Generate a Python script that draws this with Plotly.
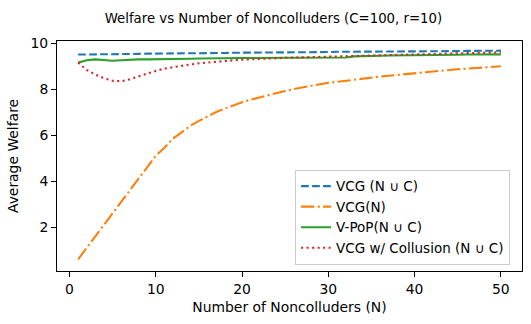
import plotly.graph_objects as go

n_values = list(range(1, 51))

vcg_all = [9.50, 9.50, 9.51, 9.51, 9.52, 9.52, 9.53, 9.53, 9.54, 9.54,
           9.54, 9.55, 9.55, 9.56, 9.56, 9.57, 9.57, 9.57, 9.58, 9.58,
           9.58, 9.59, 9.59, 9.59, 9.60, 9.60, 9.60, 9.61, 9.61, 9.61,
           9.62, 9.62, 9.62, 9.62, 9.63, 9.63, 9.63, 9.64, 9.64, 9.64,
           9.64, 9.65, 9.65, 9.65, 9.65, 9.66, 9.66, 9.66, 9.66, 9.67]

vcg_n = [0.60, 1.10, 1.60, 2.10, 2.60, 3.10, 3.60, 4.10, 4.60, 5.10,
         5.45, 5.85, 6.12, 6.40, 6.62, 6.82, 7.00, 7.15, 7.30, 7.43,
         7.54, 7.64, 7.74, 7.83, 7.92, 8.00, 8.08, 8.15, 8.21, 8.27,
         8.32, 8.37, 8.42, 8.46, 8.50, 8.54, 8.58, 8.62, 8.66, 8.70,
         8.74, 8.77, 8.80, 8.83, 8.86, 8.89, 8.92, 8.94, 8.97, 8.99]

vpop_all = [9.15, 9.25, 9.29, 9.27, 9.23, 9.25, 9.28, 9.29, 9.29, 9.29,
            9.29, 9.30, 9.31, 9.32, 9.33, 9.34, 9.35, 9.35, 9.35, 9.35,
            9.35, 9.36, 9.36, 9.36, 9.36, 9.36, 9.36, 9.37, 9.37, 9.38,
            9.38, 9.37, 9.42, 9.44, 9.45, 9.45, 9.46, 9.46, 9.47, 9.47,
            9.48, 9.48, 9.49, 9.49, 9.49, 9.50, 9.50, 9.50, 9.51, 9.51]

vcg_collusion = [9.15, 8.83, 8.63, 8.47, 8.36, 8.34, 8.43, 8.56, 8.68, 8.79,
                 8.89, 8.96, 9.02, 9.07, 9.12, 9.16, 9.19, 9.22, 9.25, 9.28,
                 9.30, 9.31, 9.33, 9.34, 9.35, 9.37, 9.38, 9.39, 9.40, 9.41,
                 9.43, 9.44, 9.46, 9.47, 9.48, 9.49, 9.50, 9.51, 9.52, 9.52,
                 9.53, 9.54, 9.55, 9.55, 9.56, 9.57, 9.58, 9.58, 9.59, 9.60]

font = "DejaVu Sans"

fig = go.Figure()

fig.add_trace(go.Scatter(
    x=n_values, y=vcg_all, mode="lines", name="VCG (N \u222a C)",
    line=dict(color="#1f77b4", width=2.1, dash="7.7px,3.3px"),
    legendgroup="a"
))
fig.add_trace(go.Scatter(
    x=n_values, y=vcg_n, mode="lines", name="VCG(N)",
    line=dict(color="#ff7f0e", width=2.1, dash="13.3px,3.3px,2.1px,3.3px"),
    legendgroup="b"
))
fig.add_trace(go.Scatter(
    x=n_values, y=vpop_all, mode="lines", name="V-PoP(N \u222a C)",
    line=dict(color="#2ca02c", width=2.1),
    legendgroup="c"
))
fig.add_trace(go.Scatter(
    x=n_values, y=vcg_collusion, mode="lines", name="VCG w/ Collusion (N \u222a C)",
    line=dict(color="#d62728", width=2.1, dash="2.1px,3.4px"),
    legendgroup="d"
))

axis_style = dict(
    showline=True, linecolor="black", linewidth=1, mirror=True,
    ticks="outside", ticklen=5, tickwidth=1, tickcolor="black",
    showgrid=False, zeroline=False, automargin=False,
    tickfont=dict(family=font, size=13.9, color="black"),
)

fig.update_xaxes(
    range=[-1.45, 52.45], tickvals=[0, 10, 20, 30, 40, 50],
    title=dict(text="Number of Noncolluders (N)",
               font=dict(family=font, size=13.9, color="black"), standoff=6),
    **axis_style
)
fig.update_yaxes(
    range=[0.09, 10.09], tickvals=[2, 4, 6, 8, 10],
    title=dict(text="Average Welfare",
               font=dict(family=font, size=13.9, color="black"), standoff=8),
    **axis_style
)

fig.update_layout(
    width=531, height=324,
    margin=dict(l=57, r=9, t=41, b=53),
    plot_bgcolor="white", paper_bgcolor="white",
    font=dict(family=font, size=13.9, color="black"),
    title=dict(text="Welfare vs Number of Noncolluders (C=100, r=10)",
               font=dict(family=font, size=13.3, color="black"),
               x=0.515, xanchor="center", y=0.944, yanchor="middle",
               xref="container", yref="container"),
    legend=dict(
        x=0.512, y=0.44, xanchor="left", yanchor="top",
        bgcolor="white", bordercolor="#cccccc", borderwidth=1,
        font=dict(family=font, size=13.5, color="black"),
        tracegroupgap=0,
    ),
)

# page body has a default 8px margin; drop it so the figure sits at 0,0
fig.write_html("out.html", config={"displayModeBar": False},
               post_script="document.body.style.margin='0';")
